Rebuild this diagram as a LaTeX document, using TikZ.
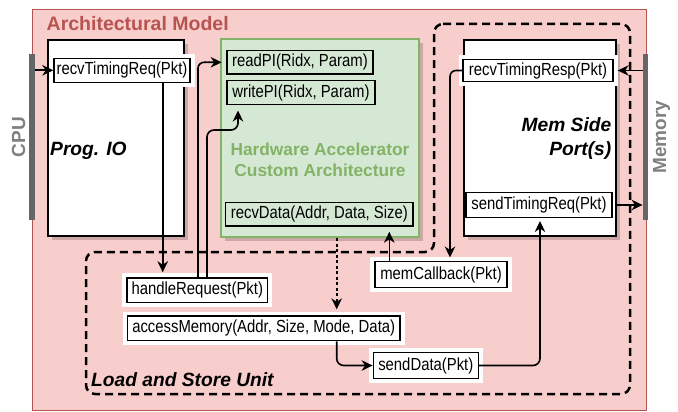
\documentclass[tikz,border=0pt]{standalone}
\usepackage{fontspec}
\setmainfont{Liberation Sans}
\newfontfamily\fnfont[FakeStretch=0.85]{Liberation Sans}
\usetikzlibrary{arrows.meta}
\definecolor{pinkfill}{HTML}{F8CECC}
\definecolor{pinkline}{HTML}{B85450}
\definecolor{greenfill}{HTML}{D5E8D4}
\definecolor{greenline}{HTML}{82B366}
\definecolor{barcol}{HTML}{666666}
\definecolor{labgray}{HTML}{808080}
\begin{document}
\begin{tikzpicture}[x=1pt,y=-1pt,
  fn/.style={draw, line width=1.4pt, inner sep=0pt, font=\fnfont\fontsize{17.5}{19}\selectfont, minimum height=24pt},
  halo/.style={fill=white, preaction={draw=white, line width=9pt}},
  blk/.style={draw, line width=1.4pt, fill=white, inner sep=0pt},
  shadowbox/.style={fill=black, opacity=0.18},
  bar/.style={fill=barcol, inner sep=0pt, minimum width=5.5pt, minimum height=166pt},
  conn/.style={line width=1.6pt, -{Stealth[length=11pt,width=10.5pt,inset=3.5pt]}},
  dregion/.style={line width=2.5pt, dash pattern=on 8pt off 5pt, rounded corners=9pt},
  sideLabel/.style={font=\bfseries\fontsize{19}{22}\selectfont, text=labgray, rotate=90},
  italLabel/.style={font=\bfseries\itshape\fontsize{19.2}{24}\selectfont}]
\useasboundingbox (0,0) rectangle (678,412);
% outer architectural model
\node[draw=pinkline, fill=pinkfill, line width=0.9pt, inner sep=0pt, minimum width=614pt, minimum height=401pt] (arch) at (339,209.5) {};
\node[anchor=west, font=\bfseries\fontsize{19.5}{22}\selectfont, text=pinkline, inner sep=0pt] (archt) at (46.5,24) {Architectural Model};
% shadows
\fill[shadowbox] (52,44) rectangle (188,240);
\fill[shadowbox] (225,43) rectangle (423,241);
\fill[shadowbox] (468,44) rectangle (620,240);
% main blocks
\node[blk, minimum width=136pt, minimum height=196pt] (pio) at (116,138) {};
\node[draw=greenline, fill=greenfill, line width=2.4pt, inner sep=0pt, minimum width=198pt, minimum height=198pt] (hw) at (320,138) {};
\node[blk, minimum width=152pt, minimum height=196pt] (msp) at (540,138) {};
% bars
\node[bar] (cpu) at (32,137) {};
\node[bar] (mem) at (645.5,137) {};
\node[sideLabel] (cpul) at (18.5,137) {CPU};
\node[sideLabel] (meml) at (661.5,137) {Memory};
% block labels
\node[italLabel, anchor=west, inner sep=0pt] (piol) at (50,151) {Prog. IO};
\node[italLabel, anchor=east, align=right, inner sep=0pt] (mspl) at (611.5,139) {Mem Side\\Port(s)};
\node[font=\bfseries\fontsize{17.3}{20.5}\selectfont, text=greenline, align=center, inner sep=0pt] (hwl) at (320,160) {Hardware Accelerator\\Custom Architecture};
\node[italLabel, anchor=west, inner sep=0pt] (lsul) at (91,380) {Load and Store Unit};
% dashed LSU region
\draw[dregion] (434,24) -- (630,24) -- (630,394) -- (86,394) -- (86,252) -- (434,252) -- cycle;
% function boxes
\node[fn, halo, minimum width=136pt] (rtreq) at (122,70.3) {recvTimingReq(Pkt)};
\node[fn, minimum width=146.3pt, minimum height=23.3pt] (rpi) at (300,62.3) {readPI(Ridx, Param)};
\node[fn, minimum width=148pt] (wpi) at (301,92.8) {writePI(Ridx, Param)};
\node[fn, minimum width=187.3pt, minimum height=23.7pt] (rdata) at (319.3,214.2) {recvData(Addr, Data, Size)};
\node[fn, halo, minimum width=150pt, minimum height=22.4pt] (rtresp) at (538,70.5) {recvTimingResp(Pkt)};
\node[fn, fill=white, minimum width=145.7pt, minimum height=24.6pt] (streq) at (539,205) {sendTimingReq(Pkt)};
\node[fn, halo, minimum width=140.7pt, minimum height=24.7pt] (hreq) at (197.3,290.3) {handleRequest(Pkt)};
\node[fn, halo, minimum width=272.7pt, minimum height=24.7pt] (amem) at (263.7,328.4) {accessMemory(Addr, Size, Mode, Data)};
\node[fn, halo, minimum width=132.3pt, minimum height=25.6pt] (mcb) at (441,274.5) {memCallback(Pkt)};
\node[fn, halo, minimum width=105pt, minimum height=25.6pt] (sdata) at (425.8,365.5) {sendData(Pkt)};
\coordinate (wbend) at (238,130);
% connectors
\draw[conn] (cpu.east |- rtreq.west) -- (rtreq.west);
\draw[conn, shorten >=5pt] ([xshift=40.7pt]rtreq.south) -- ([xshift=40.7pt]rtreq.south |- hreq.north);
\draw[conn, rounded corners=6pt, shorten >=4.5pt] ([xshift=0.7pt]hreq.north) |- (rpi.west);
\draw[conn, rounded corners=7pt, shorten >=5pt] ([xshift=9.7pt]hreq.north) |- (wbend) -- ([xshift=-63pt]wpi.south);
\draw[conn, rounded corners=6pt, shorten >=3.5pt] (rtresp.west) -| ([xshift=9pt]mcb.north);
\draw[conn, shorten >=5pt] ([xshift=-51.7pt]mcb.north) -- ([xshift=-51.7pt]mcb.north |- rdata.south);
\draw[conn, dash pattern=on 3pt off 2.5pt, shorten >=6pt] ([xshift=16.7pt]hw.south) -- ([xshift=16.7pt]hw.south |- amem.north);
\draw[conn, rounded corners=7pt] ([xshift=73pt]amem.south) |- (sdata.west);
\draw[conn, rounded corners=7pt, shorten >=3pt] (sdata.east) -| ([xshift=1pt]streq.south);
\draw[conn, shorten >=4pt] (mem.west |- rtresp.east) -- (rtresp.east);
\draw[conn, shorten <=3pt] (streq.east) -- (mem.west |- streq.east);
\end{tikzpicture}
\end{document}
